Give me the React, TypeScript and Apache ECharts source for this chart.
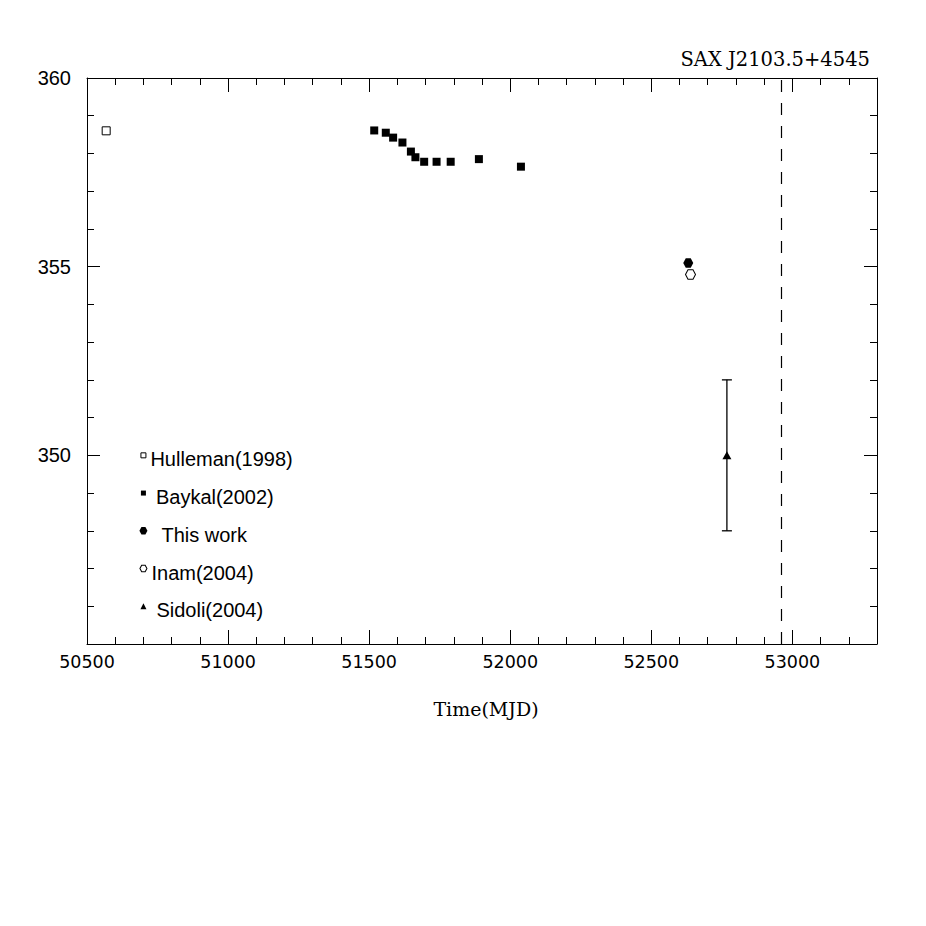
import React, { useEffect, useRef } from "react";
import * as echarts from "echarts";

// ---- data ----
const xRange = [50500, 53300];
const yRange = [345, 360];

const hullemanX = [50568];
const hullemanY = [358.6];

const baykalX = [51518, 51559, 51585, 51618, 51648, 51664, 51695, 51739, 51789, 51889, 52038];
const baykalY = [358.61, 358.55, 358.42, 358.29, 358.05, 357.9, 357.78, 357.78, 357.78, 357.85, 357.65];

const thisWorkX = [52631];
const thisWorkY = [355.1];

const inamX = [52639];
const inamY = [354.79];

const sidoliX = [52768];
const sidoliY = [350.0];
const sidoliLo = [348.0];
const sidoliHi = [352.0];

const dashedLineX = 52960;

const legendNames = ["Hulleman(1998)", "Baykal(2002)", "This work", "Inam(2004)", "Sidoli(2004)"];
const legendX = 50700;
const legendY = [350, 349, 348, 347, 346];

const titleText = "SAX J2103.5+4545";
const xAxisTitle = "Time(MJD)";

const HEX = "path://M0,866 L500,0 L1500,0 L2000,866 L1500,1732 L500,1732 Z";

export default function App() {
  const ref = useRef<HTMLDivElement>(null);

  useEffect(() => {
    if (!ref.current) return;
    const chart = echarts.init(ref.current, undefined, { renderer: "svg" });

    const black = "#000";
    const openStyle = { color: "#fff", borderColor: black, borderWidth: 1, opacity: 1 };
    const filledStyle = { color: black, opacity: 1 };

    const majorX = (pos: "bottom" | "top", labels: boolean) => ({
      type: "value",
      position: pos,
      min: xRange[0],
      max: xRange[1],
      interval: 500,
      axisLine: { show: true, lineStyle: { color: black, width: 1 } },
      axisTick: { show: true, inside: true, length: 14, lineStyle: { color: black } },
      axisLabel: {
        show: labels,
        showMaxLabel: false,
        margin: 9,
        color: "#000",
        fontFamily: "DejaVu Sans",
        fontSize: 17.5,
        formatter: (v: number) => String(v),
      },
      splitLine: { show: false },
    });
    const minorX = (pos: "bottom" | "top") => ({
      type: "value",
      position: pos,
      min: xRange[0],
      max: xRange[1],
      interval: 100,
      axisLine: { show: false },
      axisTick: { show: true, inside: true, length: 7, lineStyle: { color: black } },
      axisLabel: { show: false },
      splitLine: { show: false },
    });
    const yAx = (pos: "left" | "right", labels: boolean) => ({
      type: "value",
      position: pos,
      min: yRange[0],
      max: yRange[1],
      interval: 5,
      axisLine: { show: true, lineStyle: { color: black, width: 1 } },
      axisTick: { show: true, inside: true, length: 13, lineStyle: { color: black } },
      minorTick: { show: true, splitNumber: 5, length: 7, lineStyle: { color: black } },
      axisLabel: {
        show: labels,
        showMinLabel: false,
        margin: 16,
        color: "#000",
        fontFamily: "Liberation Sans",
        fontSize: 20,
        formatter: (v: number) => String(v),
      },
      splitLine: { show: false },
    });

    const legendSymbols = [
      { symbol: "rect", size: [5, 5], style: openStyle, dx: 0 },
      { symbol: "rect", size: [5, 5], style: filledStyle, dx: 6 },
      { symbol: HEX, size: [8, 7.5], style: filledStyle, dx: 10 },
      { symbol: HEX, size: [7, 6.5], style: openStyle, dx: 0 },
      { symbol: "triangle", size: [6, 6], style: filledStyle, dx: 6 },
    ];

    const legendData = legendNames.map((name, i) => ({
      value: [legendX, legendY[i]],
      name,
      symbol: legendSymbols[i].symbol,
      symbolSize: legendSymbols[i].size,
      itemStyle: legendSymbols[i].style,
      label: {
        show: true,
        position: "right",
        distance: 4,
        offset: [legendSymbols[i].dx, 4],
        formatter: name,
        color: "#000",
        fontFamily: "Liberation Sans",
        fontSize: 20,
      },
    }));

    const option: any = {
      animation: false,
      backgroundColor: "#fff",
      grid: { left: 87, top: 78, right: 49, bottom: 282, containLabel: false },
      xAxis: [majorX("bottom", true), minorX("bottom"), majorX("top", false), minorX("top")],
      yAxis: [yAx("left", true), yAx("right", false)],
      graphic: [
        {
          type: "text",
          x: 870,
          y: 69,
          style: {
            text: titleText,
            fontFamily: "DejaVu Serif",
            fontSize: 19.5,
            fill: "#000",
            align: "right",
            verticalAlign: "bottom",
          },
        },
        {
          type: "text",
          x: 486,
          y: 709,
          style: {
            text: xAxisTitle,
            fontFamily: "DejaVu Serif",
            fontSize: 19,
            fill: "#000",
            align: "center",
            verticalAlign: "middle",
          },
        },
      ],
      series: [
        {
          type: "scatter",
          name: legendNames[0],
          symbol: "rect",
          symbolSize: 8,
          itemStyle: openStyle,
          data: hullemanX.map((x, i) => [x, hullemanY[i]]),
        },
        {
          type: "scatter",
          name: legendNames[1],
          symbol: "rect",
          symbolSize: 8,
          itemStyle: filledStyle,
          data: baykalX.map((x, i) => [x, baykalY[i]]),
        },
        {
          type: "scatter",
          name: legendNames[2],
          symbol: HEX,
          symbolSize: [10, 9.5],
          itemStyle: filledStyle,
          data: thisWorkX.map((x, i) => [x, thisWorkY[i]]),
        },
        {
          type: "scatter",
          name: legendNames[3],
          symbol: HEX,
          symbolSize: [10, 9.5],
          itemStyle: openStyle,
          data: inamX.map((x, i) => [x, inamY[i]]),
        },
        {
          type: "custom",
          name: "Sidoli error",
          data: sidoliX.map((x, i) => [x, sidoliLo[i], sidoliHi[i]]),
          encode: { x: 0, y: [1, 2] },
          renderItem: (params: any, api: any) => {
            const x = api.value(0);
            const top = api.coord([x, api.value(2)]);
            const bot = api.coord([x, api.value(1)]);
            const half = 5;
            const st = { stroke: black, lineWidth: 1.3 };
            return {
              type: "group",
              children: [
                { type: "line", shape: { x1: top[0], y1: top[1], x2: bot[0], y2: bot[1] }, style: st },
                { type: "line", shape: { x1: top[0] - half, y1: top[1], x2: top[0] + half, y2: top[1] }, style: st },
                { type: "line", shape: { x1: bot[0] - half, y1: bot[1], x2: bot[0] + half, y2: bot[1] }, style: st },
              ],
            };
          },
          markLine: {
            silent: true,
            symbol: ["none", "none"],
            label: { show: false },
            lineStyle: { color: black, width: 1.2, type: [12, 11], opacity: 1 },
            data: [{ xAxis: dashedLineX }],
          },
          z: 2,
        },
        {
          type: "scatter",
          name: legendNames[4],
          symbol: "triangle",
          symbolSize: [9, 8],
          itemStyle: filledStyle,
          data: sidoliX.map((x, i) => [x, sidoliY[i]]),
          z: 3,
        },
        {
          type: "scatter",
          name: "legend",
          data: legendData,
          z: 3,
        },
      ],
    };

    chart.setOption(option);
    return () => chart.dispose();
  }, []);

  return (
    <div
      ref={ref}
      style={{ position: "absolute", left: 0, top: 0, width: 926, height: 926, background: "#fff" }}
    />
  );
}
